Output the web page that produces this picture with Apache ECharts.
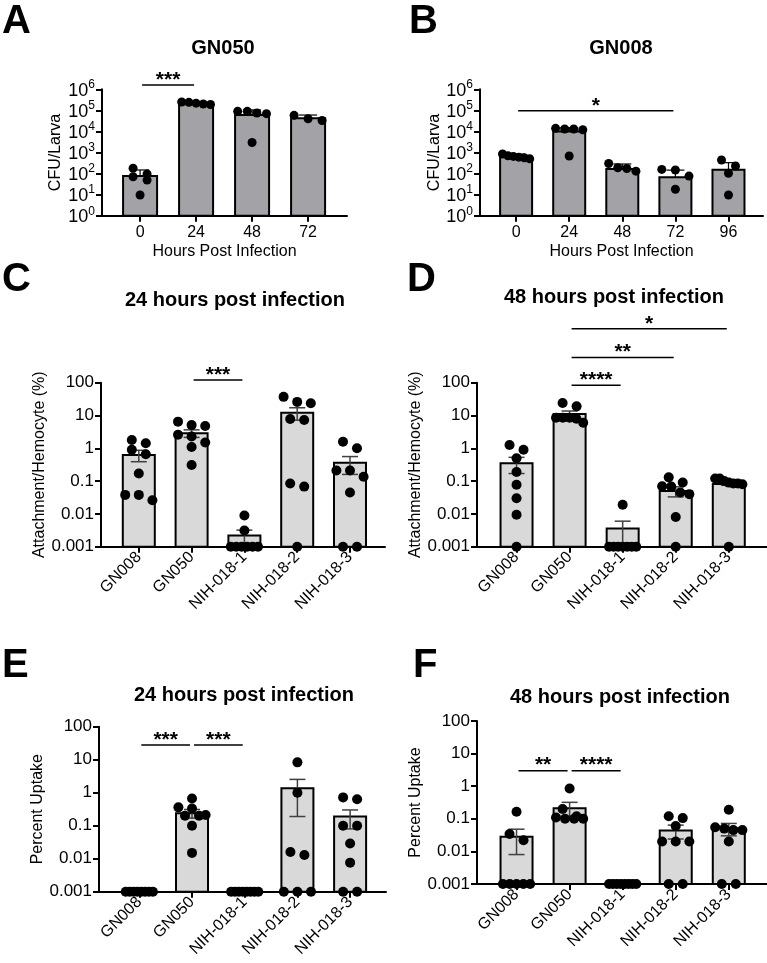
<!DOCTYPE html>
<html lang="en">
<head>
<meta charset="UTF-8">
<title>CFU, attachment and uptake</title>
<script src="https://cdn.jsdelivr.net/npm/echarts@6/dist/echarts.min.js"></script>
<style>
  html, body { margin: 0; background: #fff; }
  #main { width: 767px; height: 963px; }
</style>
</head>
<body>
<div id="main"></div>
<script>
const FONT = '"Liberation Sans", Arial, Helvetica, sans-serif';

// ---- A: GN050, CFU per larva (mean + SD) ----
const hoursA = ['0', '24', '48', '72'];
const cfuMeanA = [76, 2.15e5, 6e4, 4.2e4];
const cfuSdA = [72, 3e4, 4.5e4, 1.8e4];
const cfuDotsA = [
    [95, 178, 49, 71, 9.6],
    [2.0e5, 2.5e5, 2.2e5, 2.4e5, 1.9e5],
    [9e4, 7e4, 7.5e4, 9e4, 3e3],
    [3.3e4, 5.8e4, 4.0e4]
];
const sigA = [[0, 1, 1.6e6, '***']];

// ---- B: GN008, CFU per larva ----
const hoursB = ['0', '24', '48', '72', '96'];
const cfuMeanB = [630, 1e4, 165, 66, 150];
const cfuSdB = [200, 5e3, 120, 80, 180];
const cfuDotsB = [
    [850, 700, 650, 600, 560, 500],
    [1.4e4, 1.3e4, 1.3e4, 1.2e4, 680],
    [300, 190, 175, 130],
    [148, 158, 76, 18],
    [230, 440, 103, 9.6]
];
const sigB = [[0, 3, 9.5e4, '*']];

const strains = ['GN008', 'GN050', 'NIH-018-1', 'NIH-018-2', 'NIH-018-3'];

// ---- C: attachment/hemocyte 24 h (mean + SEM) ----
const attMeanC = [0.63, 2.9, 0.0022, 12.2, 0.36];
const attSemC = [0.24, 0.75, 0.001, 5.0, 0.2];
const attDotsC = [
    [1.42, 1.78, 0.9, 0.66, 0.17, 0.026, 0.038, 0.038],
    [5.1, 4.8, 6.5, 2.6, 2.3, 1.5, 1.1, 0.31],
    [0.0089, 0.0031, 0.001, 0.001, 0.001, 0.001, 0.001, 0.001],
    [26, 37, 23.6, 7.3, 7.8, 0.068, 0.085, 0.001],
    [1.0, 1.58, 0.21, 0.21, 0.135, 0.045, 0.001, 0.001]
];
const sigC = [[1, 2, 120, '***']];

// ---- D: attachment/hemocyte 48 h ----
const attMeanD = [0.35, 11.2, 0.0036, 0.05, 0.081];
const attSemD = [0.18, 2.5, 0.0024, 0.017, 0.005];
const attDotsD = [
    [0.9, 1.26, 0.5, 0.19, 0.077, 0.03, 0.0094, 0.001],
    [24, 19, 8.5, 8.5, 8.5, 8, 6],
    [0.019, 0.001, 0.001, 0.001, 0.001, 0.001, 0.001, 0.001],
    [0.13, 0.091, 0.068, 0.07, 0.045, 0.04, 0.008, 0.001],
    [0.12, 0.12, 0.1, 0.09, 0.085, 0.085, 0.08, 0.001]
];
const sigD = [[1, 2, 83, '****'], [1, 3, 590, '**'], [1, 4, 4400, '*']];

// ---- E: percent uptake 24 h ----
const uptMeanE = [0, 0.24, 0, 1.36, 0.19];
const uptSemE = [0, 0.07, 0, 1.17, 0.11];
const uptDotsE = [
    [0.001, 0.001, 0.001, 0.001, 0.001, 0.001, 0.001, 0.001],
    [0.67, 0.36, 0.33, 0.21, 0.2, 0.2, 0.1, 0.015],
    [0.001, 0.001, 0.001, 0.001, 0.001, 0.001, 0.001, 0.001],
    [8.3, 1.0, 0.016, 0.013, 0.001, 0.001, 0.001],
    [0.63, 0.72, 0.1, 0.1, 0.029, 0.0076, 0.001, 0.001]
];
const sigE = [[0, 1, 28, '***'], [1, 2, 28, '***']];

// ---- F: percent uptake 48 h ----
const uptMeanF = [0.028, 0.21, 0, 0.044, 0.051];
const uptSemF = [0.02, 0.11, 0, 0.02, 0.021];
const uptDotsF = [
    [0.165, 0.034, 0.022, 0.001, 0.001, 0.001, 0.001, 0.001],
    [0.85, 0.2, 0.12, 0.11, 0.1, 0.1, 0.1],
    [0.001, 0.001, 0.001, 0.001, 0.001, 0.001, 0.001, 0.001],
    [0.105, 0.12, 0.06, 0.02, 0.02, 0.02, 0.001, 0.001],
    [0.19, 0.055, 0.05, 0.045, 0.045, 0.02, 0.001, 0.001]
];
const sigF = [[0, 1, 3.0, '**'], [1, 2, 3.0, '****']];

// layout of each panel
const panels = [
    {letter: 'A', letterPos: [2, 21.5], title: 'GN050', titlePos: [223, 48],
        cats: hoursA, mean: cfuMeanA, err: cfuSdA, dots: cfuDotsA, sig: sigA,
        yName: 'CFU/Larva', yNameGap: 38, xName: 'Hours Post Infection', range: [1, 1e6], sci: true,
        grid: {left: 102, top: 89.3, width: 245, height: 126.4}, xr: [-0.68, 3.695], barW: 34, dot: 9},
    {letter: 'B', letterPos: [409, 21.5], title: 'GN008', titlePos: [621, 48],
        cats: hoursB, mean: cfuMeanB, err: cfuSdB, dots: cfuDotsB, sig: sigB,
        yName: 'CFU/Larva', yNameGap: 35, xName: 'Hours Post Infection', range: [1, 1e6], sci: true,
        grid: {left: 480, top: 89.3, width: 283, height: 126.4}, xr: [-0.68, 4.65], barW: 32, dot: 9},
    {letter: 'C', letterPos: [2, 280], title: '24 hours post infection', titlePos: [235, 300],
        cats: strains, mean: attMeanC, err: attSemC, dots: attDotsC, sig: sigC,
        yName: 'Attachment/Hemocyte (%)', yNameGap: 47, range: [0.001, 100],
        grid: {left: 101, top: 382.7, width: 284, height: 164}, xr: [-0.716, 4.663], barW: 32, dot: 10},
    {letter: 'D', letterPos: [407, 279.5], title: '48 hours post infection', titlePos: [614, 297],
        cats: strains, mean: attMeanD, err: attSemD, dots: attDotsD, sig: sigD,
        yName: 'Attachment/Hemocyte (%)', yNameGap: 43, range: [0.001, 100],
        grid: {left: 477, top: 382.7, width: 290, height: 164}, xr: [-0.745, 4.72], barW: 32, dot: 10},
    {letter: 'E', letterPos: [2, 666], title: '24 hours post infection', titlePos: [244, 695],
        cats: strains, mean: uptMeanE, err: uptSemE, dots: uptDotsE, sig: sigE,
        yName: 'Percent Uptake', yNameGap: 45, range: [0.001, 100],
        grid: {left: 99, top: 726.7, width: 287, height: 165}, xr: [-0.765, 4.681], barW: 32, dot: 10},
    {letter: 'F', letterPos: [413, 666], title: '48 hours post infection', titlePos: [620, 697],
        cats: strains, mean: uptMeanF, err: uptSemF, dots: uptDotsF, sig: sigF,
        yName: 'Percent Uptake', yNameGap: 46, range: [0.001, 100],
        grid: {left: 477, top: 721, width: 290, height: 163}, xr: [-0.745, 4.72], barW: 32, dot: 10}
];

// spread overlapping dots of one group side by side (rows centred on the bar)
function jitter(values, pxDecade, pxUnit, barPx) {
    const order = values.map((v, i) => i).sort((a, b) => values[b] - values[a]);
    const out = new Array(values.length);
    let row = [];
    const flush = () => {
        const k = row.length;
        const step = k > 1 ? Math.min(14, barPx * 0.8 / (k - 1)) : 0;
        row.forEach((idx, j) => { out[idx] = (j - (k - 1) / 2) * step / pxUnit; });
        row = [];
    };
    order.forEach(i => {
        if (row.length && (Math.log10(values[row[0]]) - Math.log10(values[i])) * pxDecade > 8) flush();
        row.push(i);
    });
    flush();
    return out;
}

const txt = {color: '#000', fontFamily: FONT, fontSize: 16};
const option = {animation: false, backgroundColor: '#fff', grid: [], xAxis: [], yAxis: [], series: [], graphic: []};

panels.forEach((p, i) => {
    const ticks = p.cats.map((c, j) => j);
    const pxUnit = p.grid.width / (p.xr[1] - p.xr[0]);
    const pxDecade = p.grid.height / Math.log10(p.range[1] / p.range[0]);
    const yMin = p.range[0];
    const capW = p.sci ? 18 : 16;

    option.grid.push(p.grid);
    option.xAxis.push({
        type: 'value', gridIndex: i, min: p.xr[0], max: p.xr[1],
        axisLine: {onZero: false, lineStyle: {color: '#000', width: 2}},
        axisTick: {customValues: ticks, length: 6, lineStyle: {color: '#000', width: 2}},
        axisLabel: Object.assign({customValues: ticks, formatter: v => p.cats[Math.round(v)],
            rotate: p.sci ? 0 : 45, margin: p.sci ? 9 : 8}, txt),
        splitLine: {show: false},
        name: p.xName || '', nameLocation: 'middle', nameGap: 28, nameTextStyle: txt
    });
    option.yAxis.push({
        type: 'log', logBase: 10, gridIndex: i, min: p.range[0], max: p.range[1],
        axisLine: {show: true, onZero: false, lineStyle: {color: '#000', width: 2}},
        axisTick: {show: true, length: 6, lineStyle: {color: '#000', width: 2}},
        axisLabel: p.sci ? {
            margin: 7,
            formatter: v => '{b|10}{s|' + Math.round(Math.log10(v)) + '}',
            rich: {
                b: {fontSize: 18, fontFamily: FONT, color: '#000', lineHeight: 21, verticalAlign: 'bottom'},
                s: {fontSize: 12, fontFamily: FONT, color: '#000', lineHeight: 12, verticalAlign: 'top'}
            }
        } : Object.assign({margin: 7, formatter: v => v >= 1 ? String(Math.round(v)) : String(+v.toPrecision(1))},
            txt, {fontSize: 17}),
        splitLine: {show: false},
        name: p.yName, nameLocation: 'middle', nameGap: p.yNameGap, nameTextStyle: txt
    });

    // bars with error bars
    option.series.push({
        type: 'custom', xAxisIndex: i, yAxisIndex: i, z: 2,
        data: p.mean.map((m, j) => [j, m, p.err[j]]),
        renderItem: (params, api) => {
            const x = api.value(0), m = api.value(1), e = api.value(2);
            const kids = [];
            if (m > yMin) {
                const base = api.coord([x, yMin]);
                const top = api.coord([x, m]);
                kids.push({type: 'rect', shape: {x: base[0] - p.barW / 2, y: top[1], width: p.barW, height: base[1] - top[1]},
                    style: {fill: p.sci ? '#a3a3a7' : '#d9d9d9', stroke: '#000', lineWidth: 2}});
                if (e > 0) {
                    const hi = api.coord([x, m + e]);
                    const lowVal = p.sci ? m : Math.max(m - e, yMin);
                    const lo = api.coord([x, lowVal]);
                    const es = {stroke: p.sci ? '#000' : '#404040', lineWidth: p.sci ? 1.2 : 1.5};
                    kids.push({type: 'line', shape: {x1: hi[0], y1: hi[1], x2: lo[0], y2: lo[1]}, style: es});
                    kids.push({type: 'line', shape: {x1: hi[0] - capW / 2, y1: hi[1], x2: hi[0] + capW / 2, y2: hi[1]}, style: es});
                    if (!p.sci && lowVal > yMin) {
                        kids.push({type: 'line', shape: {x1: lo[0] - capW / 2, y1: lo[1], x2: lo[0] + capW / 2, y2: lo[1]}, style: es});
                    }
                }
            }
            return {type: 'group', children: kids};
        }
    });

    // individual larvae / replicates
    const pts = [];
    p.dots.forEach((vals, j) => {
        const off = jitter(vals, pxDecade, pxUnit, p.barW + 2);
        vals.forEach((v, k) => pts.push([j + off[k], v]));
    });
    option.series.push({
        type: 'scatter', xAxisIndex: i, yAxisIndex: i, z: 3, clip: false,
        symbol: 'circle', symbolSize: p.dot, itemStyle: {color: '#000', opacity: 1}, data: pts
    });

    // significance brackets
    option.series.push({
        type: 'custom', xAxisIndex: i, yAxisIndex: i, z: 4, clip: false,
        data: p.sig.map(s => [s[0], s[2], s[1]]),
        renderItem: (params, api) => {
            const s = p.sig[params.dataIndex];
            const a = api.coord([s[0], s[2]]);
            const b = api.coord([s[1], s[2]]);
            return {type: 'group', children: [
                {type: 'line', shape: {x1: a[0] + 2, y1: a[1], x2: b[0] - 2, y2: b[1]},
                    style: {stroke: '#000', lineWidth: 1.5}},
                {type: 'text', style: {text: s[3], x: (a[0] + b[0]) / 2, y: a[1] - 5, align: 'center',
                    verticalAlign: 'middle', font: 'bold 21px ' + FONT, fill: '#000'}}
            ]};
        }
    });

    option.graphic.push({type: 'text', x: p.letterPos[0], y: p.letterPos[1],
        style: {text: p.letter, align: 'left', verticalAlign: 'middle', font: 'bold 40px ' + FONT, fill: '#000'}});
    option.graphic.push({type: 'text', x: p.titlePos[0], y: p.titlePos[1],
        style: {text: p.title, align: 'center', verticalAlign: 'middle', font: 'bold 20px ' + FONT, fill: '#000'}});
});

const chart = echarts.init(document.getElementById('main'));
chart.setOption(option);
</script>
</body>
</html>
